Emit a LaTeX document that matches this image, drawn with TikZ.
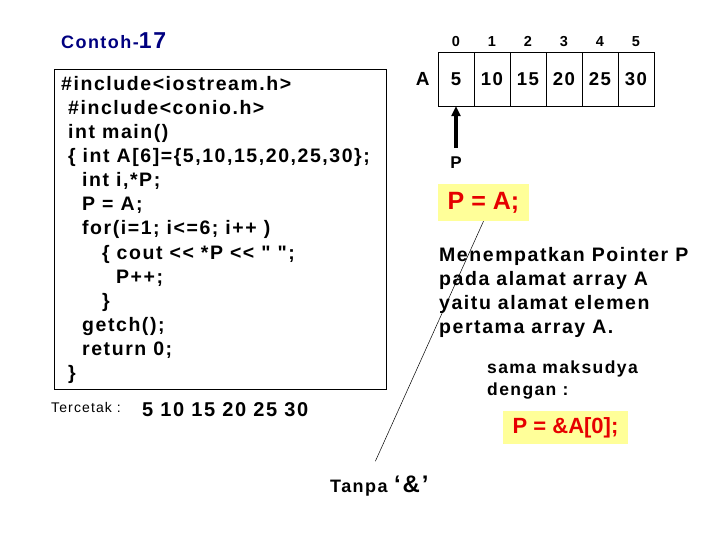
\documentclass[tikz,border=0pt]{standalone}
\usepackage{fontspec}
\setmainfont{Liberation Sans}[Ligatures=TeXOff, LetterSpace=8]
\usetikzlibrary{positioning,arrows.meta}
\definecolor{ctNavy}{RGB}{0,0,128}
\definecolor{ctRed}{RGB}{230,0,0}
\definecolor{ctYellow}{RGB}{255,255,153}

\begin{document}
\begin{tikzpicture}[x=1pt, y=-1pt,
  font=\bfseries,
  txt/.style={inner sep=0pt, anchor=base west},
  codeline/.style={txt, font=\bfseries\fontsize{19.5}{24}\selectfont},
  cell/.style={draw, minimum width=36pt, minimum height=54pt, inner sep=0pt, font=\bfseries\fontsize{18.6}{22}\selectfont},
  idx/.style={inner sep=0pt, font=\bfseries\fontsize{14.5}{16}\selectfont},
  hl/.style={fill=ctYellow, text=ctRed, inner sep=0pt},
  note/.style={inner sep=0pt, anchor=north west, align=left},
  arr/.style={-{Triangle[length=10pt, width=9pt]}, line width=3.2pt},
]
\useasboundingbox (0,0) rectangle (720,540);
% title
\node[txt, text=ctNavy, font=\bfseries\fontsize{18}{20}\selectfont] (title) at (61,49)
  {Contoh-{\fontsize{23}{24}\selectfont 17}};
% program listing
\node[draw, line width=0.8pt, anchor=north west, minimum width=332pt, minimum height=320pt] (listing) at (54,69) {};
\foreach \ind/\src [count=\n] in {61/{\#include<iostream.h>}, 68/{\#include<conio.h>}, 68/{int main()},
    68/{\{ int A[6]=\{5,10,15,20,25,30\};}, 82/{int i,*P;}, 82/{P = A;}, 82/{for(i=1; i<=6; i++ )},
    102/{\{ cout << *P << " ";}, 116/{P++;}, 102/{\}}, 82/{getch();}, 82/{return 0;}, 68/{\}}}
  \node[codeline] (line\n) at (\ind, 67+24*\n) {\src};
% array A with indices
\foreach \v [count=\k from 0] in {5,10,15,20,25,30}
  \node[cell] (cell\k) at (456+36*\k, 79) {\v};
\foreach \k in {0,...,5}
  \node[idx, above=5pt of cell\k] (idx\k) {\k};
\node[inner sep=0pt, font=\bfseries\fontsize{19}{22}\selectfont, left=8pt of cell0] (arrname) {A};
% pointer P
\node[inner sep=0pt, font=\bfseries\fontsize{17}{18}\selectfont, below=50pt of cell0] (ptr) {P};
\draw[arr, shorten <=8pt] (ptr) -- (cell0);
\node[hl, minimum width=91pt, minimum height=37pt, font=\bfseries\fontsize{25}{28}\selectfont\addfontfeature{LetterSpace=0}] (assign) at (483.5,202.5) {P = A;};
% explanation
\node[note, font=\bfseries\fontsize{19.5}{24}\selectfont] (explain) at (439,247)
  {Menempatkan Pointer P\\pada alamat array A\\yaitu alamat elemen\\pertama array A.};
\node[note, font=\bfseries\fontsize{17.5}{22}\selectfont] (same) at (487,361) {sama maksudya\\dengan :};
\node[hl, minimum width=125pt, minimum height=33pt, font=\bfseries\fontsize{22}{24}\selectfont\addfontfeature{LetterSpace=0}] (assign2) at (565.5,427.5) {P = \&A[0];};
% printed output
\node[txt, font=\fontsize{14}{16}\selectfont] (printed) at (51,412) {Tercetak :};
\node[txt, font=\bfseries\fontsize{20}{22}\selectfont] (output) at (142,416) {5 10 15 20 25 30};
% without '&'
\node[txt, font=\bfseries\fontsize{18}{20}\selectfont] (noamp) at (330,492) {Tanpa {\fontsize{24}{26}\selectfont ‘\&’}};
\draw[line width=0.5pt] (assign.south) -- ([xshift=-4pt, yshift=14pt]noamp.north);
\end{tikzpicture}
\end{document}
